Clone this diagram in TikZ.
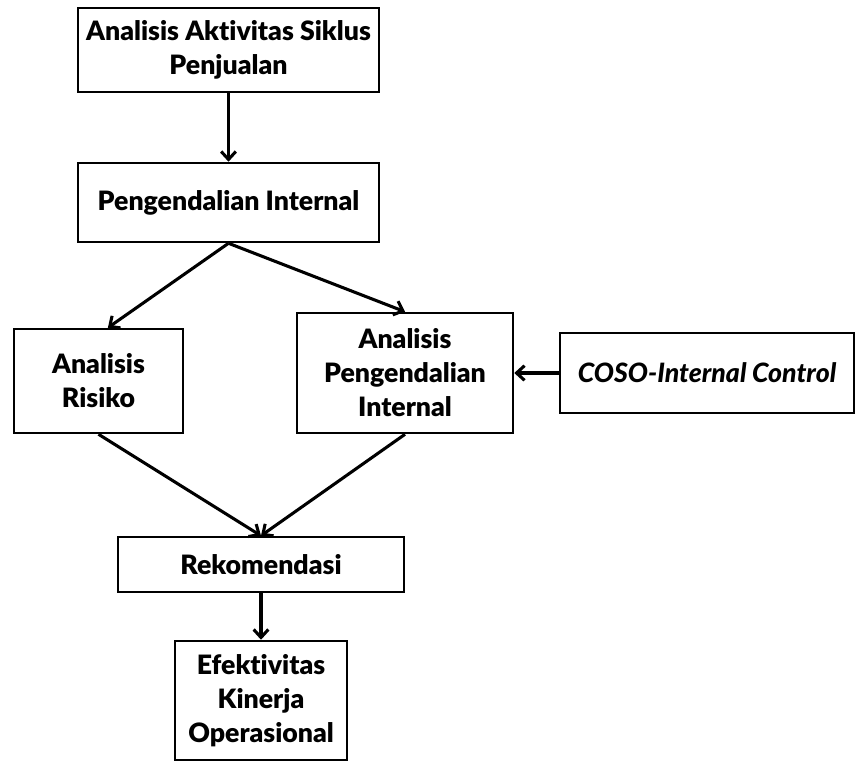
\documentclass[tikz,border=0pt]{standalone}
\usepackage{fontspec}
\setmainfont{Lato}[Ligatures=NoCommon, BoldFont={Lato Black}, BoldItalicFont={Lato Black Italic}]
\usetikzlibrary{arrows.meta}

\tikzset{
    box/.style={draw, line width=1.9pt, inner sep=0pt, align=center,
        font=\fontsize{20}{25.5}\selectfont\bfseries},
    arrow/.style={line width=2.3pt, -{Straight Barb[length=6pt,width=11pt]}}
}

\begin{document}
\begin{tikzpicture}[x=0.75pt, y=-0.75pt]

    % Fix the page size
    \useasboundingbox (0, 0) rectangle (855, 761);

    % Define the boxes of the flow
    \node[box, minimum width=225.75pt, minimum height=63pt] (siklus) at (228.5, 50) {Analisis Aktivitas Siklus\\Penjualan};
    \node[box, minimum width=225.75pt, minimum height=59.25pt] (pengendalian) at (228.5, 202.5) {Pengendalian Internal};
    \node[box, minimum width=126.75pt, minimum height=78pt] (risiko) at (98.5, 381) {Analisis\\Risiko};
    \node[box, minimum width=162pt, minimum height=90pt] (analisispi) at (405, 373) {Analisis\\Pengendalian\\Internal};
    \node[box, minimum width=220.5pt, minimum height=60pt, font=\fontsize{20}{25.5}\selectfont\bfseries\itshape] (coso) at (707, 373) {COSO-Internal Control};
    \node[box, minimum width=214.5pt, minimum height=41.25pt] (rekomendasi) at (261, 564.5) {Rekomendasi};
    \node[box, minimum width=129pt, minimum height=89.25pt] (efektivitas) at (261, 700.5) {Efektivitas\\Kinerja\\Operasional};

    % Draw the arrows
    \draw[arrow] (siklus) -- (pengendalian);             % Top to internal control
    \draw[arrow] (pengendalian.south) -- (risiko.80);    % Split left
    \draw[arrow] (pengendalian.south) -- (analisispi.north); % Split right
    \draw[arrow] (coso) -- (analisispi);                 % COSO input
    \draw[arrow] (risiko.south) -- (rekomendasi.north);  % Join left
    \draw[arrow] (analisispi.south) -- (rekomendasi.north); % Join right
    \draw[arrow] (rekomendasi) -- (efektivitas);         % Final step

\end{tikzpicture}
\end{document}
